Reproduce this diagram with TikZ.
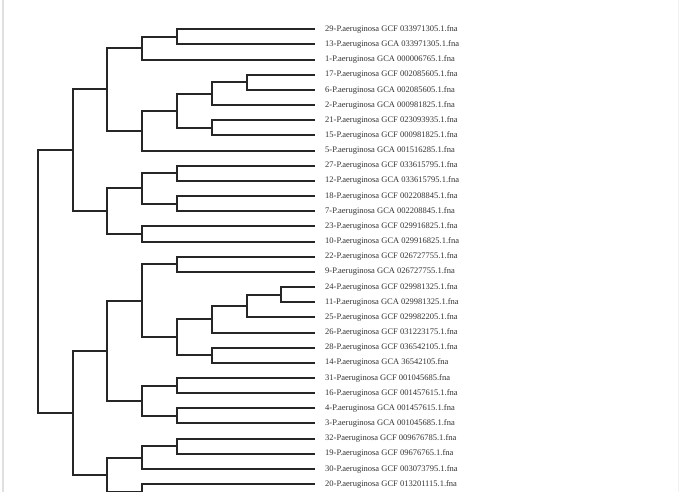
\documentclass[tikz,border=0pt]{standalone}
\usepackage{fontspec}
\setmainfont{Liberation Serif}
\usepackage{tikz}
\usetikzlibrary{positioning,calc}
\tikzset{branch/.style={line width=2pt,black!85},
  taxon/.style={inner sep=0pt,text=black!80,font=\fontsize{8.5}{9}\selectfont}}
% clade: name, x of the split, two children
\newcommand{\clade}[4]{%
  \path ($(#3)!.5!(#4)$) coordinate (m#1);
  \coordinate (#1) at (#2,0 |- m#1);
  \draw[branch] (#3) -| (#1) |- (#4);
}

\begin{document}
\begin{tikzpicture}[x=1pt,y=-1pt]
\clip (0,0) rectangle (680,492);
\fill[white] (0,0) rectangle (680,492);
\draw[black!12,line width=1.5pt] (3,0) -- (3,492);
\draw[black!5,line width=1pt] (678.5,0) -- (678.5,492);
\foreach \lab [count=\i] in {29-P.aeruginosa GCF 033971305.1.fna,
  13-P.aeruginosa GCA 033971305.1.fna,
  1-P.aeruginosa GCA 000006765.1.fna,
  17-P.aeruginosa GCF 002085605.1.fna,
  6-P.aeruginosa GCA 002085605.1.fna,
  2-P.aeruginosa GCA 000981825.1.fna,
  21-P.aeruginosa GCF 023093935.1.fna,
  15-P.aeruginosa GCF 000981825.1.fna,
  5-P.aeruginosa GCA 001516285.1.fna,
  27-P.aeruginosa GCF 033615795.1.fna,
  12-P.aeruginosa GCA 033615795.1.fna,
  18-P.aeruginosa GCF 002208845.1.fna,
  7-P.aeruginosa GCA 002208845.1.fna,
  23-P.aeruginosa GCF 029916825.1.fna,
  10-P.aeruginosa GCA 029916825.1.fna,
  22-P.aeruginosa GCF 026727755.1.fna,
  9-P.aeruginosa GCA 026727755.1.fna,
  24-P.aeruginosa GCF 029981325.1.fna,
  11-P.aeruginosa GCA 029981325.1.fna,
  25-P.aeruginosa GCF 029982205.1.fna,
  26-P.aeruginosa GCF 031223175.1.fna,
  28-P.aeruginosa GCF 036542105.1.fna,
  14-P.aeruginosa GCA 36542105.fna,
  31-Paeruginosa GCF 001045685.fna,
  16-P.aeruginosa GCF 001457615.1.fna,
  4-P.aeruginosa GCA 001457615.1.fna,
  3-P.aeruginosa GCA 001045685.1.fna,
  32-Paeruginosa GCF 009676785.1.fna,
  19-P.aeruginosa GCF 09676765.1.fna,
  30-P.aeruginosa GCF 003073795.1.fna,
  20-P.aeruginosa GCF 013201115.1.fna}{
  \coordinate (t\i) at (315,{29.3+15.16*(\i-1)});
  \node[taxon,right=10pt of t\i] (n\i) {\lab};
}
\coordinate (t32) at (315,499.3);
% upper half
\clade{c1}{176.9}{t1}{t2}
\clade{c2}{142.1}{c1}{t3}
\clade{c3}{246.5}{t4}{t5}
\clade{c4}{211.7}{c3}{t6}
\clade{c5}{211.7}{t7}{t8}
\clade{c6}{176.9}{c4}{c5}
\clade{c7}{142.1}{c6}{t9}
\clade{c8}{107.3}{c2}{c7}
\clade{c9}{176.9}{t10}{t11}
\clade{c10}{176.9}{t12}{t13}
\clade{c11}{142.1}{c9}{c10}
\clade{c12}{142.1}{t14}{t15}
\clade{c13}{107.3}{c11}{c12}
\clade{c14}{72.5}{c8}{c13}
% lower half
\clade{c15}{176.9}{t16}{t17}
\clade{c16}{281.3}{t18}{t19}
\clade{c17}{246.5}{c16}{t20}
\clade{c18}{211.7}{c17}{t21}
\clade{c19}{211.7}{t22}{t23}
\clade{c20}{176.9}{c18}{c19}
\clade{c21}{142.1}{c15}{c20}
\clade{c22}{176.9}{t24}{t25}
\clade{c23}{176.9}{t26}{t27}
\clade{c24}{142.1}{c22}{c23}
\clade{c25}{107.3}{c21}{c24}
\clade{c26}{176.9}{t28}{t29}
\clade{c27}{142.1}{c26}{t30}
\clade{c28}{142.1}{t31}{t32}
\clade{c29}{107.3}{c27}{c28}
\clade{c30}{72.5}{c25}{c29}
\clade{root}{37.7}{c14}{c30}
\end{tikzpicture}
\end{document}
